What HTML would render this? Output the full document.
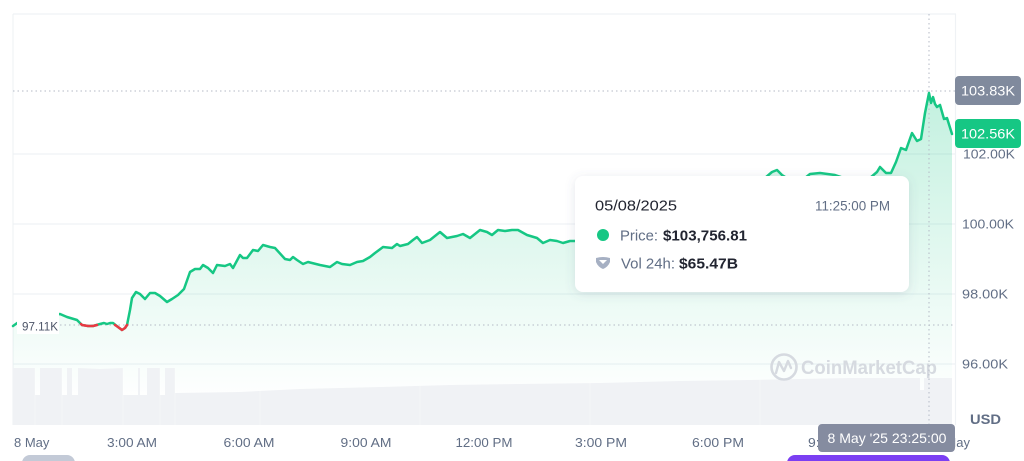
<!DOCTYPE html>
<html><head><meta charset="utf-8"><style>
html,body{margin:0;padding:0;background:#fff;}
svg{display:block;font-family:"Liberation Sans",sans-serif;}
</style></head><body>
<svg width="1024" height="461" viewBox="0 0 1024 461" xmlns="http://www.w3.org/2000/svg">
<defs>
<linearGradient id="gf" x1="0" y1="90" x2="0" y2="400" gradientUnits="userSpaceOnUse">
<stop offset="0" stop-color="#16c784" stop-opacity="0.26"/>
<stop offset="1" stop-color="#16c784" stop-opacity="0"/>
</linearGradient>
<filter id="sh" x="-10%" y="-20%" width="120%" height="150%">
<feDropShadow dx="0" dy="2" stdDeviation="5" flood-color="#58667e" flood-opacity="0.16"/>
</filter>
</defs>

<!-- grid -->
<g stroke="#eff2f5" stroke-width="1.2" fill="none">
<line x1="13" y1="14" x2="956" y2="14"/>
<line x1="13" y1="154" x2="956" y2="154"/>
<line x1="13" y1="224" x2="956" y2="224"/>
<line x1="13" y1="294" x2="956" y2="294"/>
<line x1="13" y1="364" x2="956" y2="364"/>
<line x1="13" y1="14" x2="13" y2="425"/>
<line x1="955.5" y1="14" x2="955.5" y2="425"/>
</g>

<!-- fill -->
<polygon fill="url(#gf)" points="13,326 20,321 60,314 67,317 77,320 82,325 88,326 93,326 100,324 104,323 107,324 110,323 113,323 118,327 122,330 125,328 127,325 130,310 132,298 136,292 140,294 145,299 150,293 155,293 160,296 167,302 172,299 178,295 184,289 190,272 195,269 200,269 203,265 208,268 213,273 217,265 225,266 230,264 233,268 240,255 243,258 247,258 253,250 258,251 263,245 270,247 275,248 285,259 290,260 293,257 297,260 303,264 308,262 320,265 330,267 337,262 342,264 350,265 357,262 363,261 370,257 375,253 383,247 392,248 397,244 400,246 408,244 413,240 417,237 422,243 430,240 440,232 447,238 457,236 463,234 470,238 480,230 487,232 492,235 498,230 505,231 512,230 518,230 527,235 537,238 543,243 550,240 557,241 563,243 570,241 575,241 600,235 650,215 700,200 740,185 765,178 772,172 777,170 782,175 790,180 805,178 810,174 820,173 835,175 850,180 870,178 877,172 880,167 886,173 891,173 896,162 901,148 906,150 912,133 917,141 921,139 925,113 929,93 931,103 933,97 935,104 937,107 940,105 944,119 947,118 952,134 952,425 13,425"/>

<!-- volume -->
<polygon fill="#f0f2f5" points="13,425 13,368 35,368 35,395 40,395 40,368 62,368 62,395 67,395 67,368 72,368 72,395 78,395 78,368 100,369 123,368 123,395 138,395 138,368 140,368 140,395 147,395 147,368 160,368 160,395 165,395 165,368 175,368 175,393 240,392 300,389 380,387 450,385 520,384 600,383 680,381 750,380 850,378 920,378 920,390 924,390 924,378 952,378 952,425"/>
<g stroke="#fff" stroke-width="0.6" opacity="0.5">
<line x1="35" y1="368" x2="35" y2="425"/><line x1="62" y1="368" x2="62" y2="425"/><line x1="123" y1="368" x2="123" y2="425"/><line x1="160" y1="368" x2="160" y2="425"/><line x1="175" y1="368" x2="175" y2="425"/><line x1="260" y1="390" x2="260" y2="425"/><line x1="420" y1="386" x2="420" y2="425"/><line x1="590" y1="383" x2="590" y2="425"/><line x1="760" y1="380" x2="760" y2="425"/>
</g>

<!-- watermark -->
<g opacity="0.9">
<circle cx="784" cy="367" r="12.5" fill="none" stroke="#d3d7de" stroke-width="2.6"/>
<path d="M776,373 L779,362 L784,371 L788,361 L791,368" fill="none" stroke="#d3d7de" stroke-width="2.4" stroke-linejoin="round" stroke-linecap="round"/>
<text x="801" y="374" font-size="19" font-weight="bold" fill="#d3d7de" textLength="136" lengthAdjust="spacingAndGlyphs">CoinMarketCap</text>
</g>

<!-- dotted lines -->
<g stroke="#b4bac6" stroke-width="1" stroke-dasharray="1.5,3" fill="none">
<line x1="13" y1="91" x2="955" y2="91"/>
<line x1="60" y1="325" x2="955" y2="325"/>
<line x1="929" y1="14" x2="929" y2="424"/>
</g>

<!-- price line -->
<polyline fill="none" stroke="#16c784" stroke-width="2.5" stroke-linejoin="round" stroke-linecap="round" points="13,326 20,321 60,314 67,317 77,320 82,325 88,326 93,326 100,324 104,323 107,324 110,323 113,323 118,327 122,330 125,328 127,325 130,310 132,298 136,292 140,294 145,299 150,293 155,293 160,296 167,302 172,299 178,295 184,289 190,272 195,269 200,269 203,265 208,268 213,273 217,265 225,266 230,264 233,268 240,255 243,258 247,258 253,250 258,251 263,245 270,247 275,248 285,259 290,260 293,257 297,260 303,264 308,262 320,265 330,267 337,262 342,264 350,265 357,262 363,261 370,257 375,253 383,247 392,248 397,244 400,246 408,244 413,240 417,237 422,243 430,240 440,232 447,238 457,236 463,234 470,238 480,230 487,232 492,235 498,230 505,231 512,230 518,230 527,235 537,238 543,243 550,240 557,241 563,243 570,241 575,241 600,235 650,215 700,200 740,185 765,178 772,172 777,170 782,175 790,180 805,178 810,174 820,173 835,175 850,180 870,178 877,172 880,167 886,173 891,173 896,162 901,148 906,150 912,133 917,141 921,139 925,113 929,93 931,103 933,97 935,104 937,107 940,105 944,119 947,118 952,134"/>
<polyline fill="none" stroke="#ea3943" stroke-width="2.5" stroke-linejoin="round" stroke-linecap="round" points="81,324 82,325 88,326 93,326 97,325"/>
<polyline fill="none" stroke="#ea3943" stroke-width="2.5" stroke-linejoin="round" stroke-linecap="round" points="115,325 118,327 122,330 125,328 127,325"/>

<!-- 97.11K label -->
<rect x="17" y="308" width="42" height="26" fill="#fff"/>
<text x="22" y="330.5" font-size="12" fill="#4d5568" textLength="36" lengthAdjust="spacingAndGlyphs">97.11K</text>

<!-- right axis -->
<g font-size="13" fill="#616e85">
<text x="963" y="158.5" textLength="52" lengthAdjust="spacingAndGlyphs">102.00K</text>
<text x="962" y="228.5" textLength="52" lengthAdjust="spacingAndGlyphs">100.00K</text>
<text x="962" y="298.5" textLength="46" lengthAdjust="spacingAndGlyphs">98.00K</text>
<text x="962" y="368.5" textLength="46" lengthAdjust="spacingAndGlyphs">96.00K</text>
<text x="970" y="424" font-weight="bold" font-size="14" textLength="31" lengthAdjust="spacingAndGlyphs">USD</text>
</g>
<rect x="955" y="76" width="66" height="29" rx="4" fill="#808a9d"/>
<text x="988" y="95.5" font-size="14" fill="#fff" text-anchor="middle" textLength="54" lengthAdjust="spacingAndGlyphs">103.83K</text>
<rect x="955" y="119" width="66" height="29" rx="4" fill="#16c784"/>
<text x="988" y="138.5" font-size="14" fill="#fff" text-anchor="middle" textLength="54" lengthAdjust="spacingAndGlyphs">102.56K</text>

<!-- x axis -->
<g font-size="13" fill="#616e85">
<text x="14" y="447">8 May</text>
<text x="132" y="447" text-anchor="middle" textLength="50" lengthAdjust="spacingAndGlyphs">3:00 AM</text>
<text x="249" y="447" text-anchor="middle" textLength="51" lengthAdjust="spacingAndGlyphs">6:00 AM</text>
<text x="366" y="447" text-anchor="middle" textLength="51" lengthAdjust="spacingAndGlyphs">9:00 AM</text>
<text x="484" y="447" text-anchor="middle" textLength="57" lengthAdjust="spacingAndGlyphs">12:00 PM</text>
<text x="601" y="447" text-anchor="middle" textLength="52" lengthAdjust="spacingAndGlyphs">3:00 PM</text>
<text x="718" y="447" text-anchor="middle" textLength="52" lengthAdjust="spacingAndGlyphs">6:00 PM</text>
<text x="834" y="447" text-anchor="middle" textLength="52" lengthAdjust="spacingAndGlyphs">9:00 PM</text>
<text x="970" y="447" text-anchor="end">9 May</text>
</g>

<!-- date tooltip -->
<rect x="818" y="424" width="137" height="28" rx="4" fill="#858ca0"/>
<text x="887" y="443" font-size="14" fill="#fff" text-anchor="middle" textLength="119" lengthAdjust="spacingAndGlyphs">8 May '25 23:25:00</text>

<!-- bottom pills -->
<rect x="787" y="455" width="163" height="16" rx="8" fill="#7b3ff2"/>
<rect x="22" y="455" width="53" height="16" rx="8" fill="#c3cad7"/>

<!-- tooltip card -->
<rect x="575" y="176" width="334" height="116" rx="8" fill="#fff" filter="url(#sh)"/>
<text x="595" y="210.5" font-size="15" fill="#222531" textLength="82" lengthAdjust="spacingAndGlyphs">05/08/2025</text>
<text x="890" y="210.5" font-size="14" fill="#616e85" text-anchor="end" textLength="75" lengthAdjust="spacingAndGlyphs">11:25:00 PM</text>
<circle cx="603" cy="235" r="6" fill="#16c784"/>
<text x="620" y="240.5" font-size="15" fill="#616e85" textLength="38" lengthAdjust="spacingAndGlyphs">Price:</text>
<text x="663" y="240.5" font-size="15" font-weight="bold" fill="#222531" textLength="84" lengthAdjust="spacingAndGlyphs">$103,756.81</text>
<path d="M596,258 Q603,256 610,258 L610,262 Q608,267 603,269 Q598,267 596,262 Z" fill="#a6b0c3"/>
<path d="M599,260 L607,260 L603,264 Z" fill="#fff"/>
<text x="621" y="268.5" font-size="15" fill="#616e85" textLength="54" lengthAdjust="spacingAndGlyphs">Vol 24h:</text>
<text x="679" y="268.5" font-size="15" font-weight="bold" fill="#222531" textLength="59" lengthAdjust="spacingAndGlyphs">$65.47B</text>
</svg>
</body></html>
